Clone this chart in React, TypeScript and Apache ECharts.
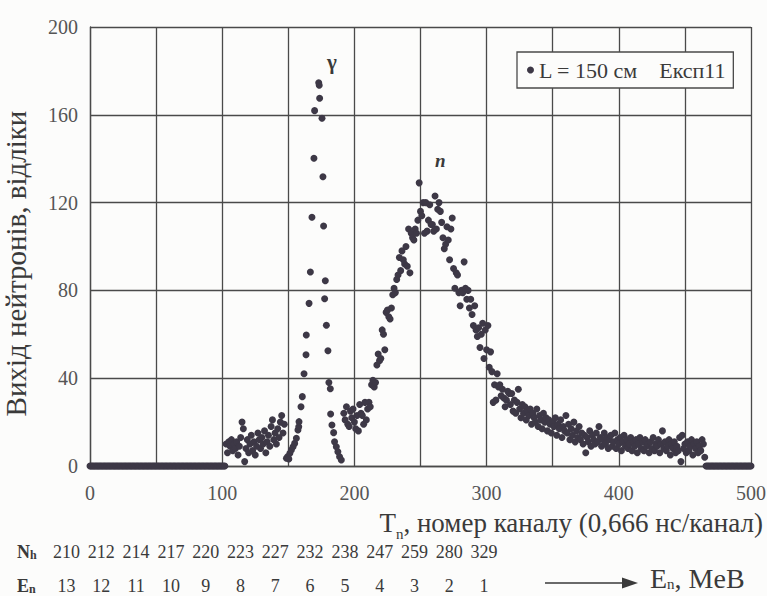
import { useEffect, useRef } from 'react';
import * as echarts from 'echarts';

// ---- data ----
const leadStartChannel = 0;
const leadCounts = [
  0, 0, 0, 0, 0, 0, 0, 0, 0, 0,
  0, 0, 0, 0, 0, 0, 0, 0, 0, 0,
  0, 0, 0, 0, 0, 0, 0, 0, 0, 0,
  0, 0, 0, 0, 0, 0, 0, 0, 0, 0,
  0, 0, 0, 0, 0, 0, 0, 0, 0, 0,
  0, 0, 0, 0, 0, 0, 0, 0, 0, 0,
  0, 0, 0, 0, 0, 0, 0, 0, 0, 0,
  0, 0, 0, 0, 0, 0, 0, 0, 0, 0,
  0, 0, 0, 0, 0, 0, 0, 0, 0, 0,
  0, 0, 0, 0, 0, 0, 0, 0, 0, 0,
  0, 0, 0,
];

const noiseStartChannel = 103;
const noiseCounts = [
  10, 6, 11, 9, 12, 7, 10,
  8, 11, 5, 9, 13, 20, 17, 2, 8, 12,
  6, 10, 14, 7, 11, 5, 9, 15, 12, 8,
  13, 10, 16, 6, 11, 14, 9, 18, 21, 12,
  15, 10, 17, 13, 20, 23, 15, 19,
];

const gammaChannels = [
  148.6, 149.6, 150.4, 151.2, 152.3, 153.6, 154.8, 156.1, 157.3, 157.9,
  158.1, 159.6, 160.6, 161.9, 163.4, 163.6, 165.7, 166.7, 167.9, 169.4,
  169.9, 173.0, 173.4, 173.7, 175.5, 176.2, 176.7, 177.5, 178.0, 178.8,
  180.0, 180.7, 181.8, 182.0, 183.0, 184.3, 185.0, 186.3, 187.5, 188.8,
  190.1,
];
const gammaCounts = [
  3.5, 4.3, 3.2, 5.8, 7.3, 8.8, 10.3, 12.6, 16.4, 17.9,
  20.2, 27, 31.6, 42, 50.7, 59.7, 74.1, 88.4, 113.3, 140.2,
  161.9, 174.6, 173.5, 167.5, 158.4, 131.8, 109.3, 76.2, 84.4, 64.1,
  52.5, 38, 35.2, 23.7, 18.7, 15.2, 11, 8.8, 6.5, 4.2,
  2.7,
];

const neutronStartChannel = 192;
const neutronCounts = [
  24, 21, 27, 19, 18, 25, 22, 26,
  20, 17, 23, 16, 28, 24, 23, 19, 29, 21,
  26, 29, 27, 37, 39, 36, 38, 46, 51, 48,
  49, 62, 60, 53, 70, 71, 68, 67, 72, 78,
  81, 79, 85, 87, 95, 89, 98, 94, 92, 100,
  91, 108, 88, 106, 104, 103, 108, 106, 112, 129,
  116, 114, 120, 106, 120, 107, 112, 119, 110, 110,
  107, 123, 108, 117, 120, 116, 111, 104, 99, 101,
  109, 103, 94, 108, 113, 90, 81, 88, 87, 79,
  73, 80, 79, 93, 81, 76, 80, 72, 76, 69,
  64, 73, 62, 59, 63, 54, 60, 65, 49, 62,
  53, 64, 45, 52, 43, 29, 37, 30, 42, 36,
  37, 32, 35, 31, 27, 30, 34, 33, 28, 33,
  25, 30, 24, 29, 35, 26, 22, 28, 24, 27,
  21, 25, 23, 26, 19, 24, 22, 20, 26, 18,
  23, 21, 17, 24, 20, 22, 16, 21, 19, 15,
  20, 18, 22, 14, 19, 17, 21, 13, 18, 16,
  23, 15, 19, 12, 17, 14, 20, 11, 16, 13,
  18, 12, 15, 10, 14, 6, 13, 11, 16, 9,
  14, 12, 10, 15, 11, 18, 13, 9, 12, 15,
  10, 13, 8, 12, 14, 9, 11, 15, 8, 12,
  10, 13, 7, 11, 14, 9, 12, 8, 10, 13,
  7, 11, 9, 12, 6, 10, 13, 8, 11, 7,
  12, 9, 10, 6, 11, 8, 13, 7, 10, 9,
  12, 6, 10, 16, 8, 11, 7, 9, 12, 5,
  10, 8, 11, 6, 9, 7, 13, 2, 14, 8,
  10, 6, 11, 7, 9, 12, 5, 10, 8, 11,
  6, 9, 7, 12, 10, 4,
];

const tailStartChannel = 466;
const tailCounts = [
  0, 0, 0, 0, 0, 0, 0, 0, 0, 0,
  0, 0, 0, 0, 0, 0, 0, 0, 0, 0,
  0, 0, 0, 0, 0, 0, 0, 0, 0, 0,
  0, 0, 0, 0, 0,
];

const seriesName = 'L = 150 см    Експ11';
const gammaMark: [number, number] = [183, 184];
const neutronMark: [number, number] = [265, 139];

const nhLabels = ['210', '212', '214', '217', '220', '223', '227', '232', '238', '247', '259', '280', '329'];
const energyLabels = ['13', '12', '11', '10', '9', '8', '7', '6', '5', '4', '3', '2', '1'];

const SERIF = "'Liberation Serif', 'Times New Roman', 'DejaVu Serif', serif";
const INK = '#3d3846';
const GRID = '#4a4a4a';
const TEXT = '#3a3a3a';

function buildPoints(): [number, number][] {
  const pts: [number, number][] = [];
  leadCounts.forEach((c, i) => pts.push([leadStartChannel + i, c]));
  noiseCounts.forEach((c, i) => pts.push([noiseStartChannel + i, c]));
  gammaChannels.forEach((ch, i) => pts.push([ch, gammaCounts[i]]));
  neutronCounts.forEach((c, i) => pts.push([neutronStartChannel + i, c]));
  tailCounts.forEach((c, i) => pts.push([tailStartChannel + i, c]));
  return pts;
}

export default function App() {
  const ref = useRef<HTMLDivElement>(null);

  useEffect(() => {
    if (!ref.current) return;
    const chart = echarts.init(ref.current, undefined, { renderer: 'svg' });

    const colX0 = 66.5;
    const colStep = 34.8;
    const rowGraphics: any[] = [];
    nhLabels.forEach((t, i) => {
      rowGraphics.push({
        type: 'text',
        x: colX0 + i * colStep,
        y: 552,
        style: { text: t, font: `18px ${SERIF}`, fill: TEXT, align: 'center', verticalAlign: 'middle' },
      });
    });
    energyLabels.forEach((t, i) => {
      rowGraphics.push({
        type: 'text',
        x: colX0 + i * colStep,
        y: 586,
        style: { text: t, font: `18px ${SERIF}`, fill: TEXT, align: 'center', verticalAlign: 'middle' },
      });
    });

    chart.setOption({
      animation: false,
      backgroundColor: '#fcfcfb',
      textStyle: { fontFamily: SERIF },
      grid: { left: 90, right: 16, top: 27, bottom: 130, containLabel: false, outerBoundsMode: 'none' },
      legend: {
        left: 517,
        top: 52,
        padding: [7, 7, 7, 10],
        itemWidth: 7,
        itemHeight: 7,
        icon: 'circle',
        borderColor: GRID,
        borderWidth: 1.3,
        backgroundColor: '#fcfcfb',
        textStyle: { fontFamily: SERIF, fontSize: 22, color: TEXT },
        data: [seriesName],
      },
      xAxis: {
        type: 'value',
        min: 0,
        max: 500,
        interval: 50,
        axisLine: { show: true, lineStyle: { color: GRID, width: 1.3 } },
        axisTick: { show: false },
        axisLabel: {
          margin: 17,
          fontFamily: SERIF,
          fontSize: 20,
          color: '#555',
          formatter: (v: number) => (v % 100 === 0 ? String(v) : ''),
        },
        splitLine: { show: true, lineStyle: { color: GRID, width: 1.3 } },
      },
      yAxis: {
        type: 'value',
        min: 0,
        max: 200,
        interval: 40,
        name: 'Вихід нейтронів, відліки',
        nameLocation: 'middle',
        nameGap: 60,
        nameTextStyle: { fontFamily: SERIF, fontSize: 29, color: TEXT, padding: [0, 34, 0, 0] },
        axisLine: { show: true, lineStyle: { color: GRID, width: 1.3 } },
        axisTick: { show: false },
        axisLabel: { margin: 12, fontFamily: SERIF, fontSize: 20, color: '#555' },
        splitLine: { show: true, lineStyle: { color: GRID, width: 1.3 } },
      },
      series: [
        {
          name: seriesName,
          type: 'scatter',
          symbol: 'circle',
          symbolSize: 7,
          itemStyle: { color: INK, opacity: 1 },
          data: buildPoints(),
          markPoint: {
            symbol: 'circle',
            symbolSize: 0,
            label: { show: true, position: 'inside', fontFamily: SERIF, color: TEXT },
            data: [
              { coord: gammaMark, value: 'γ', label: { formatter: 'γ', fontSize: 21, fontWeight: 'bold' } },
              { coord: neutronMark, value: 'n', label: { formatter: 'n', fontSize: 19, fontStyle: 'italic', fontWeight: 'bold' } },
            ],
          },
        },
      ],
      graphic: [
        {
          type: 'text',
          right: 4,
          top: 509,
          style: {
            text: '{a|T}{s|n}{a|, номер каналу (0,666 нс/канал)}',
            fill: TEXT,
            rich: {
              a: { fontFamily: SERIF, fontSize: 27, fill: TEXT, verticalAlign: 'bottom' },
              s: { fontFamily: SERIF, fontSize: 15, fill: TEXT, verticalAlign: 'bottom', padding: [0, 0, -5, 0] },
            },
          },
        },
        {
          type: 'text',
          x: 17,
          y: 552,
          style: {
            text: '{a|N}{s|h}',
            verticalAlign: 'middle',
            rich: {
              a: { fontFamily: SERIF, fontSize: 18, fontWeight: 'bold', fill: TEXT },
              s: { fontFamily: SERIF, fontSize: 12, fontWeight: 'bold', fill: TEXT, padding: [6, 0, 0, 0] },
            },
          },
        },
        {
          type: 'text',
          x: 17,
          y: 586,
          style: {
            text: '{a|E}{s|n}',
            verticalAlign: 'middle',
            rich: {
              a: { fontFamily: SERIF, fontSize: 18, fontWeight: 'bold', fill: TEXT },
              s: { fontFamily: SERIF, fontSize: 12, fontWeight: 'bold', fill: TEXT, padding: [6, 0, 0, 0] },
            },
          },
        },
        ...rowGraphics,
        {
          type: 'line',
          shape: { x1: 545, y1: 583, x2: 626, y2: 583 },
          style: { stroke: TEXT, lineWidth: 1.5 },
        },
        {
          type: 'polygon',
          shape: { points: [[622, 577.5], [638, 583], [622, 588.5]] },
          style: { fill: TEXT },
        },
        {
          type: 'text',
          x: 650,
          y: 578,
          style: {
            text: '{a|E}{s|n}{a|, MeB}',
            verticalAlign: 'middle',
            rich: {
              a: { fontFamily: SERIF, fontSize: 28, fill: TEXT },
              s: { fontFamily: SERIF, fontSize: 15, fill: TEXT, padding: [12, 0, 0, 0] },
            },
          },
        },
      ],
    });

    return () => chart.dispose();
  }, []);

  return (
    <div
      ref={ref}
      style={{ position: 'fixed', left: 0, top: 0, width: 767, height: 596 }}
    />
  );
}
